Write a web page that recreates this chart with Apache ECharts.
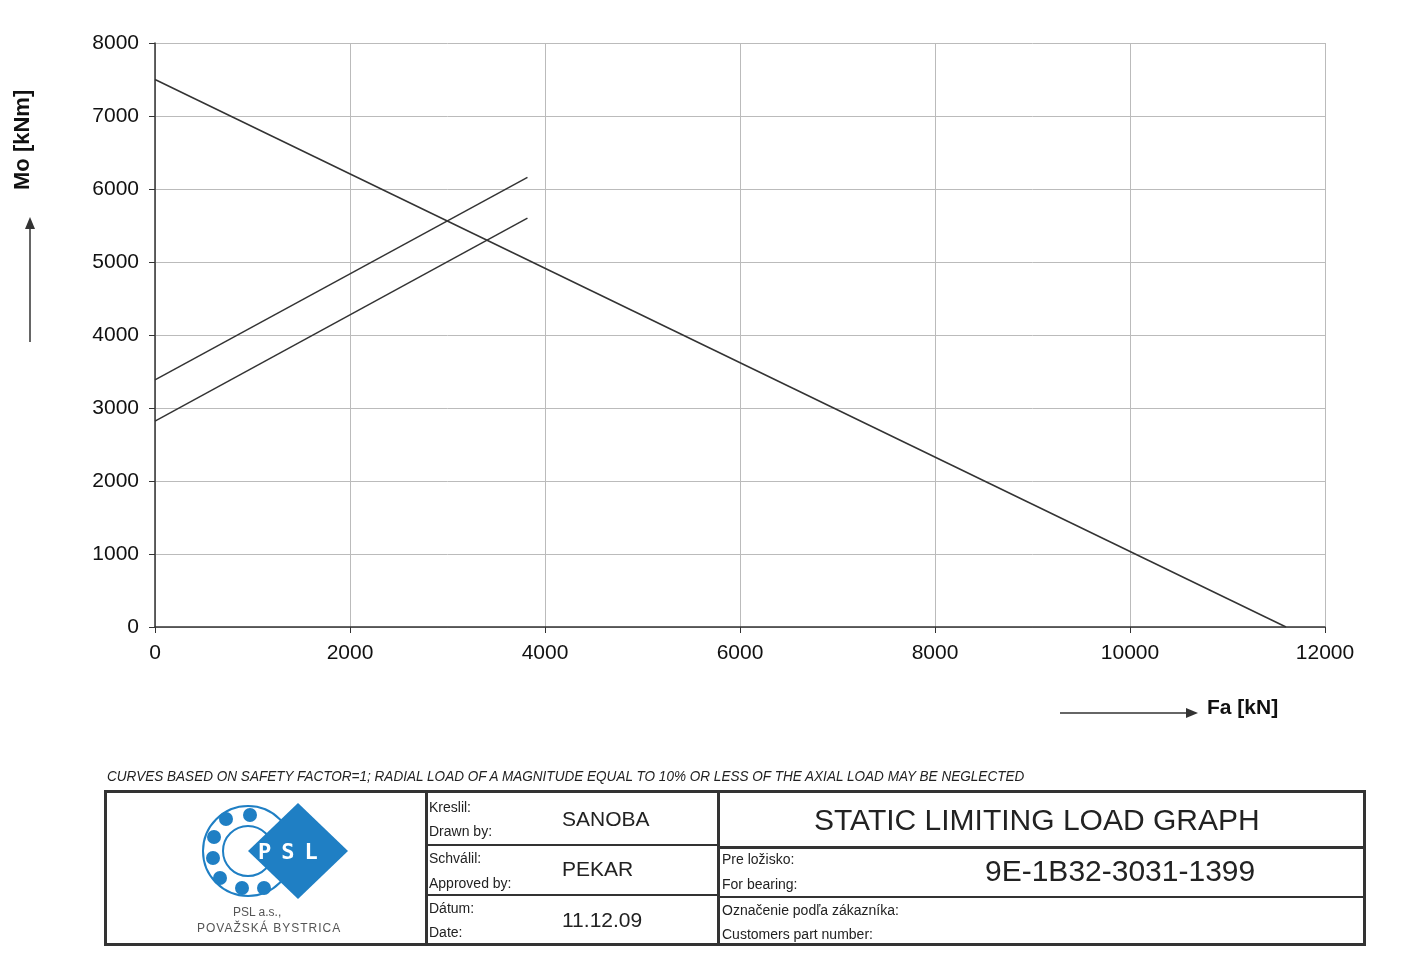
<!DOCTYPE html>
<html><head><meta charset="utf-8">
<script src="https://cdn.jsdelivr.net/npm/echarts@6/dist/echarts.min.js"></script>
<style>
body{margin:0;width:1410px;height:961px;background:#fff;font-family:Arial,"Liberation Sans",sans-serif;position:relative;overflow:hidden}
#c{position:absolute;left:0;top:0;width:1410px;height:961px}
.a{position:absolute;color:#222}
.box{position:absolute;border:3px solid #333;box-sizing:border-box}
.l{position:absolute;background:#333}
</style></head><body>
<div id="c"></div>
<div class="a" style="left:107px;top:768px;font-size:14.5px;font-style:italic;transform:scaleX(0.935);transform-origin:left;white-space:nowrap">CURVES BASED ON SAFETY FACTOR=1; RADIAL LOAD OF A MAGNITUDE EQUAL TO 10% OR LESS OF THE AXIAL LOAD MAY BE NEGLECTED</div>
<div class="box" style="left:104px;top:790px;width:1262px;height:156px"></div>
<div class="l" style="left:425px;top:790px;width:3px;height:156px"></div>
<div class="l" style="left:717px;top:790px;width:3px;height:156px"></div>
<div class="l" style="left:427px;top:844px;width:292px;height:1.5px"></div>
<div class="l" style="left:427px;top:894px;width:292px;height:1.5px"></div>
<div class="l" style="left:719px;top:846px;width:647px;height:3px"></div>
<div class="l" style="left:719px;top:896px;width:647px;height:1.5px"></div>
<div class="a" style="left:429px;top:799px;font-size:14px">Kreslil:</div>
<div class="a" style="left:429px;top:823px;font-size:14px">Drawn by:</div>
<div class="a" style="left:562px;top:807px;font-size:21px">SANOBA</div>
<div class="a" style="left:429px;top:850px;font-size:14px">Schválil:</div>
<div class="a" style="left:429px;top:875px;font-size:14px">Approved by:</div>
<div class="a" style="left:562px;top:857px;font-size:21px">PEKAR</div>
<div class="a" style="left:429px;top:900px;font-size:14px">Dátum:</div>
<div class="a" style="left:429px;top:924px;font-size:14px">Date:</div>
<div class="a" style="left:562px;top:908px;font-size:21px">11.12.09</div>
<div class="a" style="left:814px;top:803px;font-size:30px">STATIC LIMITING LOAD GRAPH</div>
<div class="a" style="left:722px;top:851px;font-size:14px">Pre ložisko:</div>
<div class="a" style="left:722px;top:876px;font-size:14px">For bearing:</div>
<div class="a" style="left:985px;top:854px;font-size:30px">9E-1B32-3031-1399</div>
<div class="a" style="left:722px;top:902px;font-size:14px">Označenie podľa zákazníka:</div>
<div class="a" style="left:722px;top:926px;font-size:14px">Customers part number:</div>
<svg style="position:absolute;left:200px;top:800px" width="160" height="105">
<circle cx="48" cy="51" r="45" fill="none" stroke="#1f7fc4" stroke-width="2"/>
<circle cx="48" cy="51" r="25" fill="none" stroke="#1f7fc4" stroke-width="2"/>
<g fill="#1f7fc4">
<circle cx="26" cy="19" r="7"/><circle cx="50" cy="15" r="7"/><circle cx="14" cy="37" r="7"/>
<circle cx="13" cy="58" r="7"/><circle cx="20" cy="78" r="7"/><circle cx="42" cy="88" r="7"/><circle cx="64" cy="88" r="7"/>
<polygon points="98,3 148,51 98,99 48,51"/></g>
<text x="58" y="59" fill="#fff" font-size="22" font-weight="bold" letter-spacing="10" font-family="DejaVu Sans Mono">PSL</text>
</svg>
<div class="a" style="left:233px;top:905px;font-size:12px;color:#555">PSL a.s.,</div>
<div class="a" style="left:197px;top:921px;font-size:12px;color:#555;letter-spacing:1px">POVAŽSKÁ BYSTRICA</div>
<script>
const limitLine = [[0,7500],[11600,0]];
const curveUpper = [[0,3385],[3820,6160]];
const curveLower = [[0,2820],[3820,5600]];
const xTicks = [0,2000,4000,6000,8000,10000,12000];
const yTicks = [0,1000,2000,3000,4000,5000,6000,7000,8000];
const ch = echarts.init(document.getElementById('c'));
const ls = {color:'#333',width:1.5};
ch.setOption({
 animation:false,
 grid:{left:155,right:85,top:43,bottom:334},
 xAxis:{type:'value',min:xTicks[0],max:xTicks[xTicks.length-1],interval:2000,
  axisLine:{lineStyle:{color:'#333',width:1.5}},axisTick:{show:true,length:6,lineStyle:{color:'#333'}},
  axisLabel:{color:'#111',fontSize:21,margin:16,formatter:v=>String(v)},splitLine:{lineStyle:{color:'#bbb'}}},
 yAxis:{type:'value',min:yTicks[0],max:yTicks[yTicks.length-1],interval:1000,
  axisLine:{show:true,lineStyle:{color:'#333',width:1.5}},axisTick:{show:true,length:6,lineStyle:{color:'#333'}},
  axisLabel:{color:'#111',fontSize:21,margin:16,formatter:v=>String(v)},splitLine:{lineStyle:{color:'#bbb'}}},
 series:[limitLine,curveUpper,curveLower].map(d=>({type:'line',data:d,symbol:'none',lineStyle:ls})),
 graphic:[
  {type:'text',rotation:Math.PI/2,style:{text:'Mo [kNm]',font:'bold 22px Arial',fill:'#111'},x:12,y:190,originX:0,originY:0},
  {type:'line',shape:{x1:30,y1:342,x2:30,y2:225},style:{stroke:'#333',lineWidth:1.5}},
  {type:'polygon',shape:{points:[[30,217],[25,229],[35,229]]},style:{fill:'#333'}},
  {type:'line',shape:{x1:1060,y1:713,x2:1190,y2:713},style:{stroke:'#333',lineWidth:1.5}},
  {type:'polygon',shape:{points:[[1198,713],[1186,708],[1186,718]]},style:{fill:'#333'}},
  {type:'text',x:1207,y:698,style:{text:'Fa [kN]',font:'bold 21px Arial',fill:'#111'}}
 ]
});
</script>
</body></html>
